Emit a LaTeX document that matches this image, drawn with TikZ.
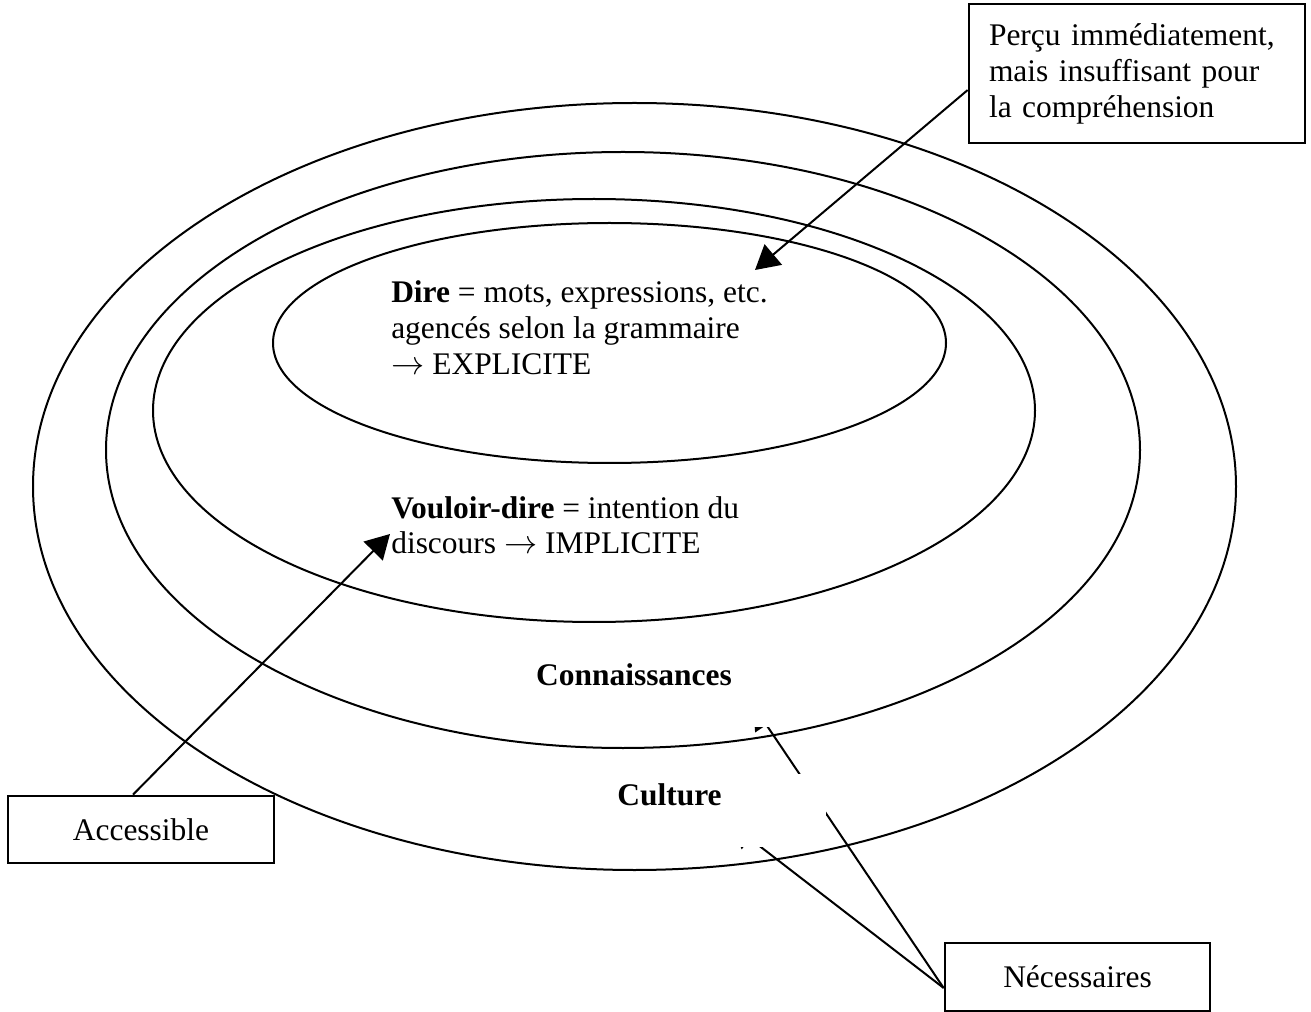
\documentclass[tikz,border=0pt]{standalone}
\usepackage{fontspec}
\setmainfont{Liberation Serif}
\usetikzlibrary{arrows.meta,shapes.geometric}
\begin{document}
\begin{tikzpicture}[x=0.75pt,y=-0.75pt,
  every node/.style={font=\fontsize{23.6}{27}\selectfont},
  ring/.style={draw, ellipse, line width=1.5pt, inner sep=0pt},
  labelbox/.style={draw, line width=2pt, fill=white, inner sep=0pt},
  pointer/.style={line width=1.5pt, -{Triangle[length=18pt,width=20pt]}},
  cover/.style={fill=white, inner sep=0pt, font=\fontsize{23.6}{27}\selectfont\bfseries},
  block/.style={inner sep=0pt, anchor=base west}]
\useasboundingbox[fill=white] (0,0) rectangle (1311,1012);

% callout boxes
\node[labelbox, minimum width=252pt, minimum height=104.25pt, text width=222pt,
      align=left, inner xsep=15pt] (percu) at (1137,73.5)
  {Perçu immédiatement,\\ mais insuffisant pour\\ la compréhension};
\node[labelbox, minimum width=199.5pt, minimum height=50.25pt] (acc) at (141,829.5) {Accessible};
\node[labelbox, minimum width=198.75pt, minimum height=51pt] (nec) at (1077.5,977) {Nécessaires};

% texts inside the rings
\node[block] (dire) at (391,303)
  {\begin{tabular}[t]{@{}l@{}}\textbf{Dire} = mots, expressions, etc.\\ agencés selon la grammaire\\ $\rightarrow$ EXPLICITE\end{tabular}};
\node[block] (vouloir) at (391,518)
  {\begin{tabular}[t]{@{}l@{}}\textbf{Vouloir-dire} = intention du\\ discours $\rightarrow$ IMPLICITE\end{tabular}};

% arrow tips
\coordinate (dtip) at (755,270);
\coordinate (vtip) at (390,534);
\coordinate (ctip) at (753,705);
\coordinate (ktip) at (731,824);

% pointers
\draw[pointer] ([yshift=-12.4pt]percu.west) -- (dtip);
\draw[pointer] ([xshift=-6pt]acc.north) -- (vtip);
\draw[pointer] ([yshift=-8.25pt]nec.west) -- (ctip);
\draw[pointer] ([yshift=-8.25pt]nec.west) -- (ktip);

% ring labels on white ground
\node[cover, text height=46.5pt, text depth=31.5pt, minimum width=234pt, anchor=base] (conn) at (634,685) {Connaissances};
\node[cover, text height=23.25pt, text depth=31.5pt, minimum width=234.75pt, anchor=base] (cult) at (669.5,805) {Culture};

% nested rings
\node[ring, minimum width=902.25pt, minimum height=575.25pt] (culture) at (634.5,486.5) {};
\node[ring, minimum width=775.5pt, minimum height=447pt] (connaissances) at (623,450) {};
\node[ring, minimum width=661.5pt, minimum height=317.25pt] (vouloirdire) at (594,410.5) {};
\node[ring, minimum width=504.75pt, minimum height=180pt] (direring) at (609.5,343) {};
\end{tikzpicture}
\end{document}
